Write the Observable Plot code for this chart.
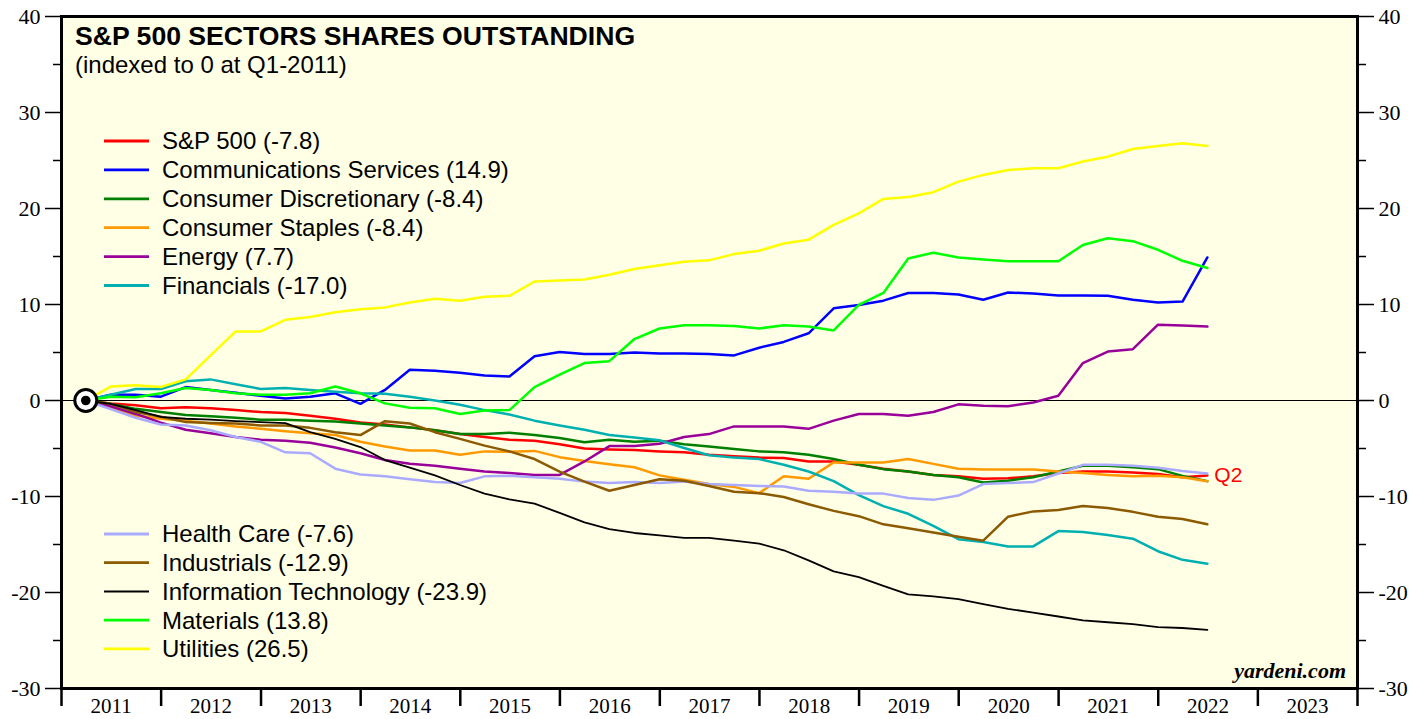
<!DOCTYPE html>
<html><head><meta charset="utf-8">
<script src="https://cdn.jsdelivr.net/npm/d3@7"></script>
<script src="https://cdn.jsdelivr.net/npm/@observablehq/plot@0.6"></script>
<style>
html,body{margin:0;padding:0;background:#fff;}
#chart{width:1425px;height:719px;overflow:hidden;}
</style></head><body><div id="chart"></div>
<script>
// Quarterly observations, Q1-2011 .. Q2-2022 (quarter-end dates)
const firstYear = 2011;
const nQuarters = 46;
const quarterDates = d3.range(nQuarters).map(i => new Date(Date.UTC(firstYear + Math.floor(i / 4), 3 * (i % 4 + 1), 0)));

const sectorNames = ["S&P 500", "Communications Services", "Consumer Discretionary", "Consumer Staples", "Energy", "Financials",
  "Health Care", "Industrials", "Information Technology", "Materials", "Utilities"];
const sectorColors = ["#FF0000", "#0000FF", "#008000", "#FF9900", "#990099", "#00B0B0",
  "#AAAAFF", "#8C5A00", "#000000", "#00FF00", "#FFFF00"];
const latestValues = ["-7.8", "14.9", "-8.4", "-8.4", "7.7", "-17.0", "-7.6", "-12.9", "-23.9", "13.8", "26.5"];

const sp500 = [0,-0.3,-0.5,-0.8,-0.7,-0.8,-1.0,-1.2,-1.3,-1.6,-1.9,-2.3,-2.5,-2.8,-3.1,-3.5,-3.8,-4.1,-4.2,-4.55,-5.0,-5.1,-5.15,-5.3,-5.4,-5.65,-5.8,-5.95,-6.0,-6.35,-6.35,-6.7,-7.1,-7.4,-7.75,-7.9,-8.15,-8.1,-7.9,-7.55,-7.4,-7.4,-7.5,-7.65,-8.0,-7.8];
const communications = [0,0.6,0.6,0.4,1.4,1.1,0.8,0.5,0.2,0.4,0.75,-0.35,1.1,3.2,3.1,2.9,2.6,2.5,4.6,5.05,4.85,4.85,5.0,4.9,4.9,4.85,4.7,5.5,6.1,7.0,9.6,9.95,10.4,11.2,11.2,11.05,10.5,11.25,11.15,10.95,10.95,10.9,10.5,10.2,10.3,14.9];
const discretionary = [0,-0.35,-0.87,-1.2,-1.5,-1.65,-1.8,-2.0,-2.0,-2.1,-2.2,-2.4,-2.6,-2.8,-3.1,-3.5,-3.5,-3.35,-3.6,-3.9,-4.35,-4.1,-4.3,-4.2,-4.55,-4.8,-5.05,-5.3,-5.4,-5.65,-6.1,-6.7,-7.15,-7.4,-7.75,-8.0,-8.55,-8.35,-8.0,-7.4,-6.8,-6.8,-6.95,-7.15,-7.85,-8.4];
const staples = [0,-0.7,-1.56,-1.9,-2.1,-2.4,-2.7,-2.95,-3.2,-3.4,-3.6,-4.3,-4.8,-5.2,-5.2,-5.65,-5.3,-5.35,-5.25,-5.9,-6.3,-6.65,-6.95,-7.8,-8.25,-8.7,-9.0,-9.65,-7.9,-8.15,-6.45,-6.45,-6.45,-6.1,-6.6,-7.1,-7.2,-7.2,-7.2,-7.4,-7.55,-7.75,-7.9,-7.85,-8.0,-8.4];
const energy = [0,-0.6,-1.4,-2.3,-3.05,-3.4,-3.8,-4.1,-4.2,-4.4,-4.9,-5.5,-6.2,-6.6,-6.8,-7.1,-7.4,-7.55,-7.75,-7.75,-6.35,-4.75,-4.75,-4.5,-3.8,-3.5,-2.7,-2.7,-2.7,-2.95,-2.1,-1.4,-1.4,-1.6,-1.2,-0.4,-0.55,-0.6,-0.2,0.5,3.9,5.1,5.35,7.9,7.8,7.7];
const financials = [0,0.6,1.2,1.2,2.0,2.2,1.7,1.2,1.3,1.1,0.9,0.75,0.7,0.4,0,-0.45,-1.0,-1.45,-2.1,-2.6,-3.05,-3.6,-3.85,-4.15,-4.95,-5.7,-5.95,-6.1,-6.7,-7.4,-8.4,-9.85,-11.0,-11.8,-13.05,-14.45,-14.75,-15.2,-15.2,-13.6,-13.7,-14.0,-14.4,-15.7,-16.6,-17.0];
const healthCare = [0,-0.9,-1.8,-2.5,-2.6,-3.1,-3.8,-4.3,-5.4,-5.5,-7.1,-7.7,-7.9,-8.2,-8.5,-8.6,-7.9,-7.85,-8.0,-8.15,-8.45,-8.6,-8.5,-8.6,-8.45,-8.7,-8.8,-8.9,-8.95,-9.4,-9.5,-9.7,-9.7,-10.15,-10.35,-9.9,-8.7,-8.6,-8.5,-7.6,-6.7,-6.7,-6.8,-7.0,-7.35,-7.6];
const industrials = [0,-0.35,-1.2,-1.7,-2.25,-2.35,-2.4,-2.6,-2.6,-2.85,-3.3,-3.6,-2.15,-2.4,-3.3,-4.0,-4.7,-5.3,-6.1,-7.4,-8.45,-9.4,-8.8,-8.2,-8.35,-8.9,-9.5,-9.65,-10.05,-10.8,-11.5,-12.05,-12.9,-13.3,-13.75,-14.2,-14.6,-12.1,-11.55,-11.4,-11.0,-11.2,-11.6,-12.1,-12.35,-12.9];
const infoTech = [0,-0.35,-1.0,-1.7,-1.9,-2.0,-2.15,-2.25,-2.35,-3.3,-4.0,-4.85,-6.2,-7.0,-7.8,-8.8,-9.7,-10.3,-10.75,-11.7,-12.7,-13.4,-13.8,-14.05,-14.3,-14.3,-14.6,-14.9,-15.6,-16.65,-17.8,-18.4,-19.3,-20.2,-20.4,-20.7,-21.2,-21.7,-22.1,-22.5,-22.9,-23.1,-23.3,-23.6,-23.7,-23.9];
const materials = [0,0.4,0.35,0.75,1.3,1.1,0.75,0.6,0.6,0.75,1.45,0.75,-0.3,-0.75,-0.8,-1.4,-1.05,-1.0,1.4,2.7,3.9,4.1,6.4,7.5,7.85,7.85,7.75,7.5,7.85,7.7,7.3,9.95,11.2,14.8,15.4,14.9,14.7,14.5,14.5,14.5,16.2,16.9,16.6,15.7,14.55,13.8];
const utilities = [0,1.45,1.6,1.4,2.2,4.7,7.2,7.2,8.4,8.7,9.2,9.5,9.7,10.2,10.6,10.4,10.8,10.9,12.4,12.5,12.6,13.1,13.7,14.1,14.45,14.6,15.25,15.6,16.35,16.75,18.3,19.5,21.0,21.2,21.7,22.8,23.5,24.0,24.2,24.2,24.9,25.4,26.2,26.5,26.8,26.5];

const sectorValues = [sp500, communications, discretionary, staples, energy, financials, healthCare, industrials, infoTech, materials, utilities];

const yMajorTicks = [-30, -20, -10, 0, 10, 20, 30, 40];
const yMinorTicks = [-25, -15, -5, 5, 15, 25, 35];
const yearTicks = d3.range(2011, 2025).map(y => new Date(Date.UTC(y, 0, 1)));
const yearLabels = d3.range(2011, 2024);
const yearLabelDates = yearLabels.map(y => new Date(Date.UTC(y, 6, 2)));

const titleText = "S&P 500 SECTORS SHARES OUTSTANDING";
const subtitleText = "(indexed to 0 at Q1-2011)";

const sansFont = "'Liberation Sans', Arial, Helvetica, sans-serif";
const serifFont = "'Liberation Serif', 'Times New Roman', serif";

const series = sectorNames.map((name, k) => sectorValues[k].map((v, i) => ({sector: name, date: quarterDates[i], value: v})));
const origin = [{date: quarterDates[0], value: sp500[0]}];
const lastSp = [{date: quarterDates[nQuarters - 1], value: sp500[nQuarters - 1]}];

const axisText = {fontSize: 22, fontFamily: serifFont};

const plot = Plot.plot({
  width: 1425,
  height: 719,
  marginLeft: 61,
  marginRight: 68,
  marginTop: 16,
  marginBottom: 31,
  style: {fontFamily: serifFont, fontSize: "22px", color: "black", background: "white", overflow: "visible"},
  x: {type: "utc", domain: [yearTicks[0], yearTicks[yearTicks.length - 1]], label: null},
  y: {domain: [-30, 40], label: null},
  marks: [
    Plot.frame({fill: "#FFFFE6", stroke: null}),
    Plot.ruleY([0], {stroke: "black", strokeWidth: 1}),
    ...series.map((d, k) => Plot.line(d, {
      x: "date", y: "value",
      stroke: sectorColors[k],
      strokeWidth: sectorNames[k] === "Information Technology" ? 1.8 : 2.5
    })),
    Plot.dot(origin, {x: "date", y: "value", r: 11, fill: "white", stroke: "black", strokeWidth: 3}),
    Plot.dot(origin, {x: "date", y: "value", r: 4.8, fill: "black", stroke: null}),
    Plot.text(lastSp, {x: "date", y: "value", text: () => "Q2", dx: 7, textAnchor: "start", fill: "#FF0000", fontSize: 21, fontFamily: sansFont}),
    Plot.axisY({anchor: "left", ticks: yMajorTicks, tickSize: 16, tickPadding: 5, strokeWidth: 1.5, tickFormat: d => String(d), label: null, ...axisText}),
    Plot.axisY({anchor: "left", ticks: yMinorTicks, tickSize: 8, strokeWidth: 1.5, tickFormat: () => "", label: null}),
    Plot.axisY({anchor: "right", ticks: yMajorTicks, tickSize: 16, tickPadding: 5, strokeWidth: 1.5, tickFormat: d => String(d), label: null, ...axisText}),
    Plot.axisY({anchor: "right", ticks: yMinorTicks, tickSize: 8, strokeWidth: 1.5, tickFormat: () => "", label: null}),
    Plot.axisX({ticks: yearTicks, tickSize: 18, strokeWidth: 2.5, tickFormat: () => "", label: null}),
    Plot.axisX({ticks: yearLabelDates, tickSize: 0, tickPadding: 10, tickFormat: d => String(d.getUTCFullYear()), label: null, fontSize: 21, fontFamily: serifFont}),
    Plot.frame({stroke: "black", strokeWidth: 3})
  ]
});

const svg = d3.select(plot);
const ann = svg.append("g").attr("font-family", sansFont).attr("fill", "black").attr("text-anchor", "start");
ann.append("text").attr("x", 75).attr("y", 45).attr("font-size", 26.6).attr("font-weight", "bold").text(titleText);
ann.append("text").attr("x", 75).attr("y", 73).attr("font-size", 24).text(subtitleText);

function legendRow(k, cy) {
  ann.append("line").attr("x1", 104).attr("x2", 149).attr("y1", cy).attr("y2", cy)
    .attr("stroke", sectorColors[k]).attr("stroke-width", sectorNames[k] === "Information Technology" ? 2 : 2.8);
  ann.append("text").attr("x", 162).attr("y", cy).attr("dy", "0.35em").attr("font-size", 24)
    .attr("text-anchor", "start")
    .text(`${sectorNames[k]} (${latestValues[k]})`);
}
for (let k = 0; k < 6; k++) legendRow(k, 141 + k * 28.9);
for (let k = 6; k < 11; k++) legendRow(k, 534 + (k - 6) * 28.7);

ann.append("text").attr("x", 1346).attr("y", 678).attr("text-anchor", "end")
  .attr("font-family", serifFont).attr("font-style", "italic").attr("font-weight", "bold").attr("font-size", 22)
  .text("yardeni.com");

document.getElementById("chart").appendChild(plot);
</script></body></html>
